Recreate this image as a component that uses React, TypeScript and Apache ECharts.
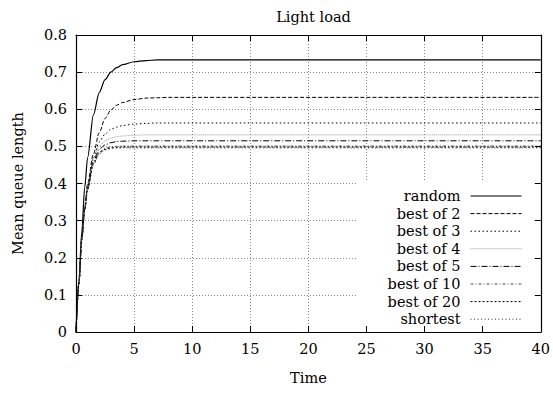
import React, { useEffect, useRef } from "react";
import * as echarts from "echarts";

const titleText = "Light load";
const xTicks = [0, 5, 10, 15, 20, 25, 30, 35, 40];
const yTicks = [0, 0.1, 0.2, 0.3, 0.4, 0.5, 0.6, 0.7, 0.8];

const times = [0, 0.25, 0.5, 0.75, 1, 1.5, 2, 2.5, 3, 3.5, 4, 5, 6, 7, 8, 40];
const randomV = [0, 0.14, 0.27, 0.39, 0.47, 0.585, 0.645, 0.68, 0.7, 0.712, 0.72, 0.728, 0.731, 0.733, 0.733, 0.733];
const best2V = [0, 0.13, 0.25, 0.335, 0.4, 0.48, 0.537, 0.575, 0.598, 0.611, 0.618, 0.626, 0.63, 0.631, 0.632, 0.632];
const best3V = [0, 0.13, 0.25, 0.33, 0.395, 0.47, 0.512, 0.533, 0.546, 0.552, 0.556, 0.56, 0.562, 0.563, 0.563, 0.563];
const best4V = [0, 0.13, 0.25, 0.33, 0.39, 0.465, 0.5, 0.515, 0.522, 0.526, 0.528, 0.53, 0.531, 0.531, 0.531, 0.531];
const best5V = [0, 0.13, 0.25, 0.33, 0.39, 0.46, 0.492, 0.504, 0.51, 0.513, 0.514, 0.515, 0.515, 0.515, 0.515, 0.515];
const best10V = [0, 0.13, 0.25, 0.33, 0.385, 0.455, 0.485, 0.495, 0.499, 0.5, 0.501, 0.501, 0.501, 0.501, 0.501, 0.501];
const best20V = [0, 0.13, 0.25, 0.33, 0.385, 0.453, 0.482, 0.492, 0.496, 0.497, 0.498, 0.498, 0.498, 0.498, 0.498, 0.498];
const shortestV = [0, 0.13, 0.25, 0.33, 0.383, 0.45, 0.48, 0.49, 0.494, 0.495, 0.496, 0.496, 0.496, 0.496, 0.496, 0.496];

const seriesNames = ["random", "best of 2", "best of 3", "best of 4", "best of 5", "best of 10", "best of 20", "shortest"];
const seriesValues = [randomV, best2V, best3V, best4V, best5V, best10V, best20V, shortestV];

const FONT = "DejaVu Serif";
const FS = 14.5;

const lineStyles: any[] = [
  { color: "#000", width: 1.2, type: "solid" },
  { color: "#000", width: 1, type: [4, 2] },
  { color: "#000", width: 1, type: [1.5, 2.5] },
  { color: "#999", width: 1, type: [1, 1] },
  { color: "#000", width: 1, type: [6, 2, 1, 2] },
  { color: "#555", width: 1, type: [3, 2, 1, 2] },
  { color: "#000", width: 1, type: [2, 2] },
  { color: "#333", width: 1, type: [1, 2.5] },
];

export default function App() {
  const ref = useRef<HTMLDivElement>(null);
  useEffect(() => {
    if (!ref.current) return;
    const chart = echarts.init(ref.current, null, { renderer: "svg" });
    const grid = { left: 76, right: 12, top: 35, bottom: 61 };
    const gridW = 553 - grid.left - grid.right;
    const gridH = 393 - grid.top - grid.bottom;
    const xMin = xTicks[0], xMax = xTicks[xTicks.length - 1];
    const yMin = yTicks[0], yMax = yTicks[yTicks.length - 1];
    const xTo = (x: number) => grid.left + ((x - xMin) / (xMax - xMin)) * gridW;
    const yTo = (y: number) => grid.top + ((yMax - y) / (yMax - yMin)) * gridH;
    const gridLine = { show: true, lineStyle: { color: "#888", type: [1, 2], width: 1 } };
    const label = { color: "#000", fontFamily: FONT, fontSize: FS };
    const baseX = { type: "value", min: xMin, max: xMax, interval: 5 };
    const baseY = { type: "value", min: yMin, max: yMax, interval: 0.1 };
    const option: any = {
      animation: false,
      title: {
        text: titleText,
        left: (grid.left + 553 - grid.right) / 2,
        textAlign: "center",
        top: 4,
        textStyle: { fontFamily: FONT, fontSize: FS, fontWeight: "normal", color: "#000" },
      },
      grid,
      xAxis: [
        { ...baseX, position: "bottom", z: 0, axisLine: { show: false }, axisTick: { show: false }, axisLabel: { show: false }, splitLine: gridLine },
        {
          ...baseX, position: "bottom", z: 5,
          axisLine: { show: true, onZero: false, lineStyle: { color: "#000", width: 1.2 } },
          axisTick: { show: true, inside: true, length: 6, lineStyle: { color: "#000" } },
          axisLabel: { ...label, margin: 9, formatter: (v: number) => String(v) },
          splitLine: { show: false },
          name: "Time", nameLocation: "middle", nameGap: 38,
          nameTextStyle: { ...label },
        },
        {
          ...baseX, position: "top", z: 5,
          axisLine: { show: true, onZero: false, lineStyle: { color: "#000", width: 1.2 } },
          axisTick: { show: true, inside: true, length: 6, lineStyle: { color: "#000" } },
          axisLabel: { show: false }, splitLine: { show: false },
        },
      ],
      yAxis: [
        { ...baseY, position: "left", z: 0, axisLine: { show: false }, axisTick: { show: false }, axisLabel: { show: false }, splitLine: gridLine },
        {
          ...baseY, position: "left", z: 5,
          axisLine: { show: true, onZero: false, lineStyle: { color: "#000", width: 1.2 } },
          axisTick: { show: true, inside: true, length: 6, lineStyle: { color: "#000" } },
          axisLabel: { ...label, margin: 9, formatter: (v: number) => (Math.round(v * 10) / 10).toString() },
          splitLine: { show: false },
          name: "Mean queue length", nameLocation: "middle", nameGap: 51, nameRotate: 90,
          nameTextStyle: { ...label },
        },
        {
          ...baseY, position: "right", z: 5,
          axisLine: { show: true, onZero: false, lineStyle: { color: "#000", width: 1.2 } },
          axisTick: { show: true, inside: true, length: 6, lineStyle: { color: "#000" } },
          axisLabel: { show: false }, splitLine: { show: false },
        },
      ],
      graphic: [
        {
          type: "rect",
          z: 1,
          silent: true,
          shape: { x: 357, y: yTo(0.405), width: xTo(40) - 357 - 2, height: yTo(0) - yTo(0.405) - 2 },
          style: { fill: "#fff" },
        },
      ],
      legend: {
        orient: "vertical",
        right: 31,
        top: 188,
        padding: 0,
        align: "right",
        itemWidth: 51,
        itemHeight: 10,
        itemGap: 1.6,
        lineStyle: { width: 1 },
        itemStyle: { color: "rgba(0,0,0,0)", borderColor: "rgba(0,0,0,0)", borderWidth: 0 },
        textStyle: { ...label, lineHeight: 16, padding: [0, 5, 0, 0] },
        data: seriesNames,
        z: 6,
      },
      series: seriesNames.map((name, i) => ({
        name,
        type: "line",
        xAxisIndex: 0,
        yAxisIndex: 0,
        showSymbol: false,
        symbol: "none",
        smooth: 0.3,
        smoothMonotone: "x",
        z: 3,
        lineStyle: lineStyles[i],
        itemStyle: { color: lineStyles[i].color },
        data: times.map((t, k) => [t, seriesValues[i][k]]),
      })),
    };
    chart.setOption(option);
    return () => chart.dispose();
  }, []);
  return <div ref={ref} style={{ width: 553, height: 393, position: "absolute", left: 0, top: 0 }} />;
}
